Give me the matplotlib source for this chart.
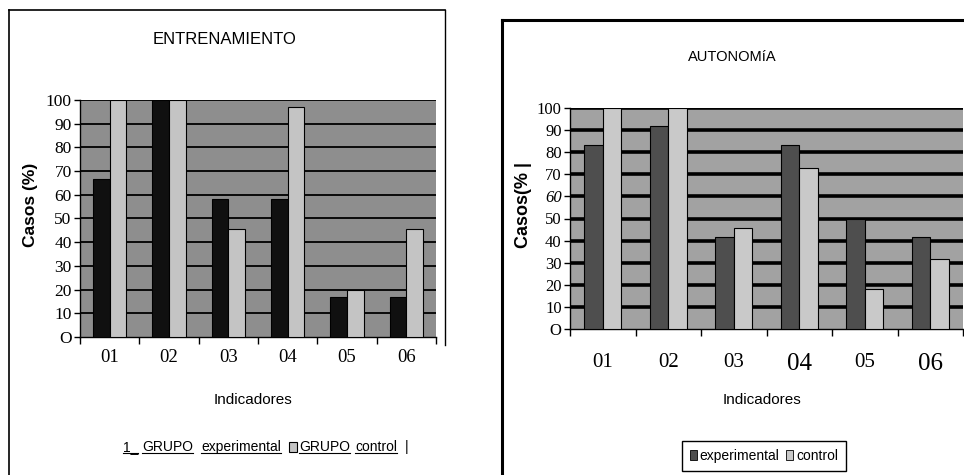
import numpy as np
import matplotlib.pyplot as plt
from matplotlib.lines import Line2D
from matplotlib.patches import Rectangle, Patch

indicadores = ['01', '02', '03', '04', '05', '06']
ent_experimental = [66.7, 100, 58.3, 58.3, 16.7, 16.7]
ent_control = [100, 100, 45.5, 97, 20, 45.5]
aut_experimental = [83.3, 91.7, 41.7, 83.3, 50, 41.7]
aut_control = [100, 100, 45.5, 72.7, 18.2, 31.8]
yticks = list(range(0, 101, 10))
ytick_labels = ['O'] + [str(v) for v in yticks[1:]]

SANS = 'Liberation Sans'
W, H = 964, 475
fig = plt.figure(figsize=(W / 100, H / 100), dpi=100)
fig.patch.set_facecolor('white')


def rect_px(x0, y0, x1, y1):
    # pixel box -> figure fraction
    return [x0 / W, 1 - y1 / H, (x1 - x0) / W, (y1 - y0) / H]


def fig_line(xs, ys, lw):
    fig.add_artist(Line2D([x / W for x in xs], [1 - y / H for y in ys],
                          color='black', lw=lw, transform=fig.transFigure))


def panel(rect, exp, ctrl, bg, exp_col, ctrl_col, grid_lw, xfs, ysize, xpad):
    ax = fig.add_axes(rect)
    ax.set_facecolor(bg)
    x = np.arange(len(indicadores))
    ax.bar(x - 0.14, exp, 0.28, color=exp_col, edgecolor='black', lw=0.8, zorder=3)
    ax.bar(x + 0.14, ctrl, 0.28, color=ctrl_col, edgecolor='black', lw=0.8, zorder=3)
    for v in yticks[1:]:
        ax.axhline(v, color='black', lw=grid_lw, zorder=1)
    ax.set_xlim(-0.5, 5.5)
    ax.set_ylim(0, 100)
    ax.set_yticks(yticks)
    ax.set_yticklabels(ytick_labels, family='Liberation Serif', fontsize=ysize)
    ax.set_xticks(x)
    ax.set_xticks(np.arange(-0.5, 6, 1), minor=True)
    ax.set_xticklabels(indicadores, family='Liberation Serif')
    for lab, fs in zip(ax.get_xticklabels(), xfs):
        lab.set_fontsize(fs)
    ax.tick_params(axis='x', which='major', length=0, pad=xpad)
    ax.tick_params(axis='x', which='minor', length=5, width=1, direction='out')
    ax.tick_params(axis='y', length=4, width=1, pad=2)
    for s in ['top', 'right']:
        ax.spines[s].set_visible(False)
    ax.spines['left'].set_linewidth(1)
    ax.spines['bottom'].set_linewidth(1)
    return ax


# ENTRENAMIENTO
ax1 = panel(rect_px(80, 100, 436, 337), ent_experimental, ent_control,
            '#8e8e8e', '#101010', '#c4c4c4', 1.3, [13.5] * 6, 12.5, 9)
fig.text(225 / W, 1 - 40 / H, 'ENTRENAMIENTO', ha='center', va='center',
         family=SANS, fontsize=12)
fig.text(30 / W, 1 - 205 / H, 'Casos (%)', ha='center', va='center', rotation=90,
         family=SANS, fontsize=12.5, weight='bold')
fig.text(253 / W, 1 - 400 / H, 'Indicadores', ha='center', va='center',
         family=SANS, fontsize=11)

# leyenda del primer grafico: piezas colocadas una tras otra
leg_y = 1 - 447 / H
fig.canvas.draw()
r = fig.canvas.get_renderer()
pieces = [('1_', 0), ('GRUPO', 4), ('experimental', 8), (None, 8),
          ('GRUPO', 2), ('control', 5), ('|', 8)]
cur = 123
for txt, gap in pieces:
    cur += gap
    if txt is None:
        fig.add_artist(Rectangle((cur / W, leg_y - 5 / H), 8 / W, 10 / H, facecolor='#c4c4c4',
                                 edgecolor='black', lw=0.8, transform=fig.transFigure))
        cur += 8
        continue
    t = fig.text(cur / W, leg_y, txt, va='center', family=SANS, fontsize=10)
    bb = t.get_window_extent(r)
    cur += bb.width
    if txt != '|':
        fig.add_artist(Line2D([bb.x0 / W, bb.x1 / W], [(bb.y0 + 1) / H] * 2, color='black',
                              lw=0.8, transform=fig.transFigure))

# marco izquierdo
fig_line([9, 445], [10, 10], 1.2)
fig_line([9, 9], [10, 475], 1.2)
fig_line([445, 445], [10, 345], 1.0)

# AUTONOMIA
ax2 = panel(rect_px(570, 108, 963, 329), aut_experimental, aut_control,
            '#a2a2a2', '#4e4e4e', '#c9c9c9', 2.6, [15, 15, 15, 18, 15, 18], 12, 17)
ax2.get_yticklabels()[6].set_style('italic')
fig.text(732 / W, 1 - 57 / H, 'AUTONOMíA', ha='center', va='center',
         family=SANS, fontsize=10.5)
fig.text(523 / W, 1 - 205 / H, 'Casos(% |', ha='center', va='center', rotation=90,
         family=SANS, fontsize=13, weight='bold')
fig.text(762 / W, 1 - 400 / H, 'Indicadores', ha='center', va='center',
         family=SANS, fontsize=11)
handles = [Patch(facecolor='#4e4e4e', edgecolor='black', lw=0.6, label='experimental'),
           Patch(facecolor='#c9c9c9', edgecolor='black', lw=0.6, label='control')]
fig.legend(handles=handles, loc='center', bbox_to_anchor=(764 / W, 1 - 456 / H), ncol=2,
           fancybox=False, edgecolor='black', framealpha=1, handlelength=0.5,
           handleheight=0.7, handletextpad=0.2, columnspacing=0.5, borderpad=0.6,
           borderaxespad=0, prop={'family': SANS, 'size': 10})

# marco derecho
fig_line([502, 964], [20, 20], 2.2)
fig_line([502, 502], [20, 475], 2.2)

fig.savefig('out.png', dpi=100)
